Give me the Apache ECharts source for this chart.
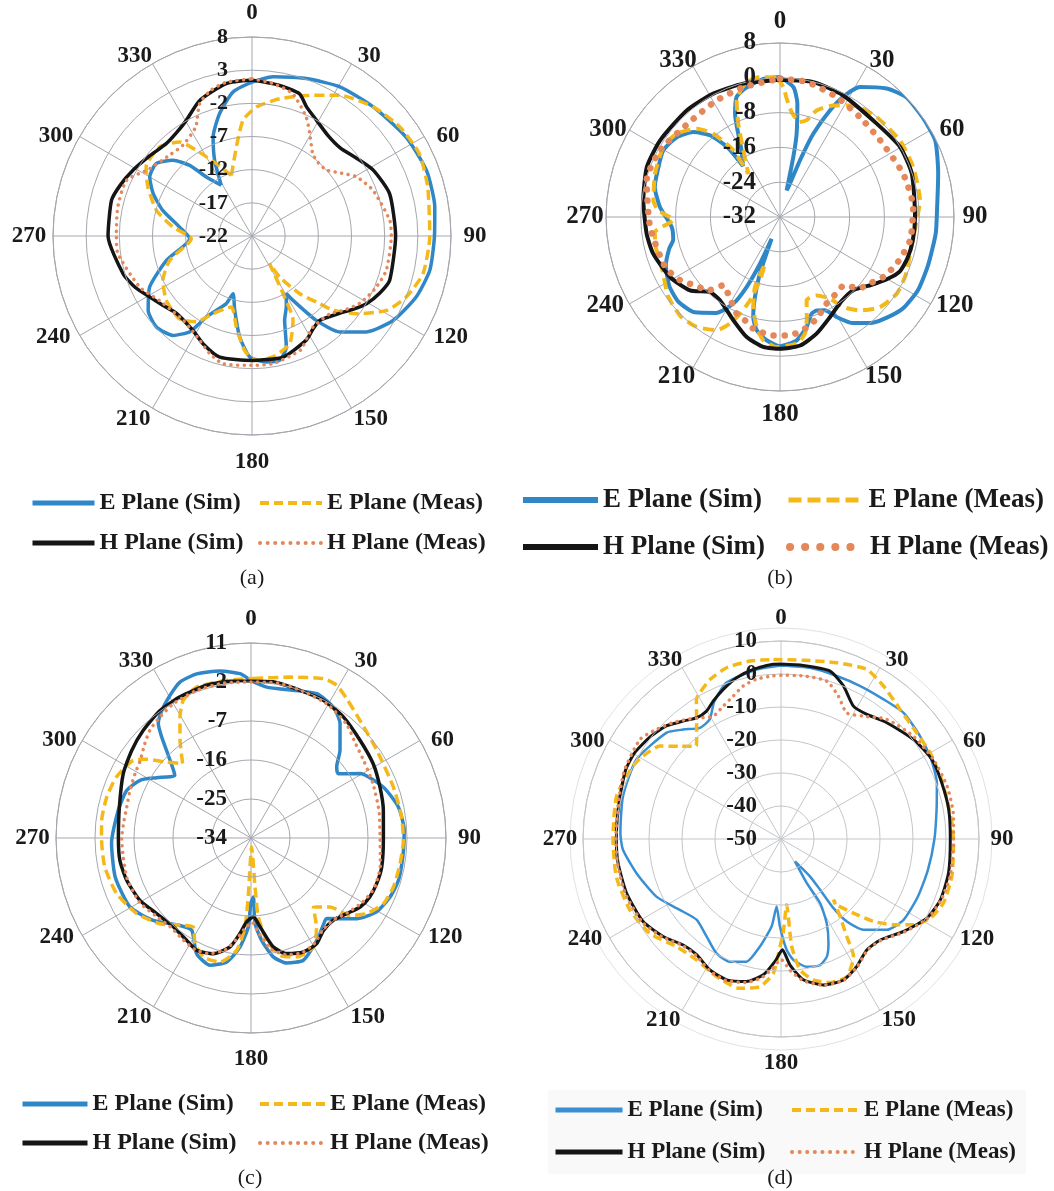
<!DOCTYPE html>
<html>
<head>
<meta charset="utf-8">
<script src="https://cdn.jsdelivr.net/npm/echarts@6/dist/echarts.min.js"></script>
<style>
  html, body { margin: 0; padding: 0; background: #fff; }
  #chart { width: 1054px; height: 1191px; }
</style>
</head>
<body>
<div id="chart"></div>
<script>
// radiation patterns, [angle in degrees, gain in dB], in drawing order
const aESim = [[328.8,-13.05],[333.7,-9.3],[338.5,-6.0],[345.2,-2.9],[352.5,-0.1],[0,1.2],[7.5,2.2],[19,3.1],[30.5,4.1],[43.2,4.7],[57.3,5.6],[69.4,6.1],[81,5.9],[90.3,5.5],[100.9,5.3],[110.4,4.4],[120.9,2.8],[130,0.5],[137.6,-2.4],[142.7,-6.0],[147.5,-10.5],[149.2,-11.9],[154,-10.2],[158.8,-8.4],[162.8,-4.5],[167.5,-2.8],[173.5,-2.9],[181,-3.75],[187,-6.7],[193.1,-10.5],[198.2,-12.85],[200.8,-11.1],[209.4,-8.0],[213,-4.8],[218.5,-2.85],[226.4,-2.1],[234.4,-2.75],[243.5,-4.75],[254.1,-8.6],[267.5,-12.6],[277,-11],[286,-8.0],[293.2,-5.8],[300,-4.2],[307,-3.9],[313.8,-5.5],[318.6,-7.8],[322.3,-10.75],[328.8,-13.05]];
const aEMeas = [[341.2,-12.35],[350,-8.4],[355.6,-4.5],[1.9,-2.55],[11.4,-0.9],[21.1,0.7],[31.9,3.0],[43.2,4.7],[53.6,5.7],[63.8,6.1],[74.4,5.5],[90,4.8],[102.4,4.4],[111.6,3.0],[118.9,1.2],[126.7,-2.4],[132.5,-5.4],[135,-7.6],[140.4,-10.7],[146,-14.5],[147.4,-17.1],[151.7,-12.1],[154,-7.9],[160.7,-4.8],[170.2,-3.5],[178,-3.25],[183.7,-4.7],[189.8,-8.1],[196.2,-10.85],[206.7,-8.9],[213,-6.6],[221.2,-5.4],[233.1,-5.85],[243.5,-7.0],[253.5,-9.05],[267.5,-12.85],[276.5,-10],[285,-7.1],[295.2,-4.65],[303.1,-2.95],[314,-2.65],[322.4,-4.1],[327,-6.6],[333.8,-9.85],[341.2,-12.35]];
const aHSim = [[0,1.5],[10,1.1],[18.5,0.6],[23,-0.9],[29,-2.0],[37,-3.0],[45,-3.2],[53,-2.4],[61.5,-1.2],[73,-0.3],[90,-0.35],[107.8,-0.2],[114,-0.9],[120.6,-1.95],[126,-3.2],[131.5,-4.4],[141.3,-5.7],[147,-5.2],[152.5,-4.3],[165.6,-3.15],[180,-3.25],[194.9,-3.1],[204,-4.1],[212,-5.2],[224.3,-5.7],[232,-5.0],[239.2,-4.05],[246,-2.8],[253.7,-1.75],[270,-0.3],[284.2,-0.15],[291,-0.7],[298.9,-1.5],[308,-2.4],[317.1,-3.0],[324,-2.7],[330.4,-1.95],[338.9,-0.1],[350.4,1.3],[360,1.5]];
const aHMeas = [[0,1.7],[8,1.2],[16,0.3],[24.5,-2.3],[30,-4.5],[36.5,-6.6],[42,-7.1],[48.5,-7.0],[55,-5.5],[60.5,-3.9],[69.3,-2.5],[83.5,-1.1],[90,-1.0],[104.3,-1.1],[113,-1.8],[122,-2.85],[129,-4.2],[135,-5.4],[146,-5.5],[151,-4.7],[157,-3.3],[170.7,-2.5],[180,-2.5],[192.8,-2.25],[200,-3.2],[206.6,-4.4],[213,-5.2],[219.3,-5.6],[227,-5.5],[235,-5.0],[245.6,-3.4],[262.5,-1.6],[270,-1.55],[282,-1.3],[293.9,-1.3],[303.3,-3.55],[313,-4.5],[322.7,-4.8],[332.7,-3.5],[338.4,-0.55],[344,0.8],[350.5,1.5],[360,1.7]];

const bESim = [[0,0.2],[5.9,-2.0],[8.7,-5.6],[11.3,-12.5],[12.5,-17.9],[14,-25.7],[16.7,-24.0],[19.4,-18.2],[21.8,-11.4],[25.1,-4.95],[28.1,-0.3],[31.6,3.1],[39.7,6.4],[46.5,8.0],[55.1,8.0],[63.7,7.8],[74.7,5.7],[86.3,4.2],[96,4.0],[108,3.8],[118,3.9],[126,3.3],[131.4,2.2],[138.8,0.3],[145.5,-2.4],[150.5,-5.6],[154.3,-8.2],[158.6,-8.9],[161.9,-8.6],[166.4,-6.0],[172.3,-3.4],[180,-2.3],[186.2,-3.5],[191.6,-5.4],[195,-8.2],[197.4,-12.75],[199.5,-18],[201,-26.6],[203.2,-20.3],[205.5,-14.15],[208.3,-9.4],[213.7,-5.5],[221.8,-2.6],[230,-1.6],[238,-2.0],[247,-3.5],[254,-5.5],[258,-6.9],[264.7,-7.0],[274.8,-4.3],[283.5,-2.4],[289.6,-2.0],[299.7,-1.1],[307.7,-2.0],[314.4,-4.1],[319.4,-7.25],[323,-12],[324,-17.5],[330,-14.3],[336.5,-6.1],[340.1,-2.65],[344.7,-1.4],[353.1,0.0],[360,0.2]];
const bEMeas = [[358.6,0.0],[1.5,-2.1],[3.2,-4.7],[6.3,-7.7],[11.5,-9.7],[15.4,-8.9],[19,-6.1],[25.5,-3.6],[33.3,-1.3],[44,-0.05],[57.4,0.7],[69.4,0.7],[83.2,0.4],[94.3,-0.8],[104.6,-1.0],[114.4,-0.2],[123.3,0.1],[132,-1.05],[139.4,-3.7],[144.9,-6.7],[148.5,-10],[154.9,-12.1],[162.3,-11.9],[165,-8.2],[167.9,-4.6],[172.5,-2.65],[181.5,-2.1],[187.7,-3.4],[192,-6.2],[196.5,-10.4],[199.7,-14.9],[197.8,-20.7],[197.5,-16.75],[199.8,-11.6],[202.5,-7.9],[205.1,-4.95],[209.2,-2.2],[217.2,-0.3],[225,0.3],[234.8,-0.5],[245.4,-2.3],[256,-2.6],[263,-3.0],[268.5,-7.5],[273,-4],[277.5,-2.65],[289.1,-1.6],[301,-0.7],[308.9,-1.5],[316.7,-4.1],[321.3,-7.5],[325,-13.3],[323.8,-19.7],[331.2,-14.5],[335.9,-8.5],[339.6,-3.4],[345.3,-0.3],[351.9,0.5],[358.6,0.0]];
const bHSim = [[0,-0.45],[13.9,-0.05],[27.5,-0.5],[46,-1.1],[59.7,-0.05],[71.8,-0.1],[90,-0.95],[100,-1.0],[108,-1.2],[114.7,-1.8],[120,-3.5],[126.5,-5.8],[135,-8.2],[144.2,-8.0],[153.4,-6.3],[162.6,-3.9],[171.1,-2.1],[180,-1.7],[187.3,-1.9],[195.5,-3.35],[204.3,-5.95],[215.8,-8.4],[223,-8.4],[230.8,-5.3],[241.4,-3.2],[253.9,-1.65],[262.9,-1.1],[277,-0.35],[290.6,0.7],[302.6,0.7],[318.8,0.55],[331.6,0.25],[344.6,-0.2],[360,-0.45]];
const bHMeas = [[0,-0.2],[11.2,-0.35],[25.3,-1.5],[38.7,-2.6],[52.5,-3.0],[70.6,-2.0],[85.7,-1.3],[100,-1.6],[111.8,-3.1],[120.1,-4.55],[126,-6.2],[132,-7.5],[137,-10.5],[143,-10.2],[151.7,-9.4],[160.2,-7.15],[167.4,-5.7],[175.2,-4.7],[183.2,-4.7],[193.4,-5.6],[198,-6.8],[204.1,-7.65],[211.5,-10],[219.7,-11.6],[224.3,-8.4],[231.2,-6.9],[237.7,-4.8],[246.5,-3.2],[265.6,-2.05],[285.4,-0.2],[299,-0.45],[318.6,-1.9],[331.5,-1.5],[344.3,-1.0],[360,-0.2]];

const cESim = [[0,2.3],[5.9,1.0],[16,1.45],[24.5,2.6],[32.2,1.7],[37.9,-0.55],[45.4,-5.15],[50.3,-8.3],[53.6,-9.0],[59.4,-4.8],[68.9,-1.3],[78.1,0.75],[87.1,1.4],[95.9,1.3],[106,1.4],[113,0.85],[120.5,-0.4],[127.4,-3.3],[136.8,-8.5],[140.4,-7.85],[147.3,-5.9],[156.8,-3.3],[164.1,-4.0],[169.4,-6.1],[174,-10.2],[177.3,-14.2],[177.7,-20.4],[180.3,-18.8],[181.7,-13.5],[185.8,-8.7],[191.1,-4.85],[197.8,-3.15],[205.2,-4.5],[212.7,-8.7],[219.1,-8.0],[229.9,-4.5],[240.3,-1.85],[254,-1.4],[268,-1.8],[281.8,-2.7],[291,-3.3],[297.5,-5.15],[302.6,-8.15],[309.5,-11.2],[315,-7.0],[318.5,-2.9],[321,0.0],[325,1.9],[330.4,3.85],[335.5,5.55],[341.7,5.9],[349.5,5.2],[356.2,4.0],[360,2.3]];
const cEMeas = [[0.8,2.8],[13.6,4.2],[24.4,6.4],[29.3,6.4],[34.5,5.0],[42.8,3.0],[55.1,1.4],[70.3,0.9],[82,1.1],[90.9,1.15],[99.8,0.9],[109,0.75],[116.4,0.1],[123.2,-2.1],[128,-5],[131.1,-9.8],[137.9,-12.5],[141,-10.5],[143.6,-8.5],[150.2,-5.0],[159,-4.6],[166.1,-6.1],[171.3,-10.1],[174.7,-15.7],[175.3,-22.7],[176,-31.9],[182.7,-21.15],[183.9,-13.4],[187.3,-7.85],[194,-4.5],[201.8,-4.4],[207.9,-6.4],[213,-9.5],[217.8,-8.5],[226.7,-5.15],[236.5,-2.4],[247.5,-0.45],[258.8,0.4],[270,0.5],[276.7,0.7],[285.9,0.6],[294.4,0.1],[303.4,-1.45],[307,-3.85],[312,-7.8],[317.4,-10.7],[324,-6.15],[329.6,-1.6],[333.8,1.4],[340.2,3.0],[351.2,2.8],[360.8,2.8]];
const cHSim = [[0,2.2],[8.1,2.4],[18.4,1.9],[27.7,1.9],[37.3,1.15],[48.1,-0.2],[58.7,-1.0],[68.4,-2.0],[78.2,-2.8],[90,-3.45],[102.5,-3.1],[110,-3.15],[116.4,-3.4],[122.3,-4.2],[128.3,-5.85],[135,-7.15],[141.9,-6.9],[148.1,-5.3],[155.3,-5.05],[162.9,-6.1],[168.4,-8.3],[174.2,-13.4],[178.3,-15.8],[183,-14.6],[186.6,-11.8],[190.9,-8.4],[198,-5.9],[205.8,-5.2],[212.2,-6.1],[221.1,-6.8],[231.3,-6.1],[240.7,-4.6],[251.2,-3.7],[260.3,-3.3],[270,-3.4],[283.2,-2.8],[296.7,-1.0],[306.3,0.15],[315,1.15],[324.5,2.15],[333.3,2.45],[343.8,2.7],[352.4,2.5],[360,2.2]];
const cHMeas = [[0,2.0],[10,2.3],[20,1.9],[30,1.5],[40,0.3],[48,-1.5],[56,-2.5],[66,-3.2],[78,-3.8],[90,-4.2],[102,-3.5],[112,-3.3],[120,-4.3],[128,-5.9],[135,-7.2],[142,-7.1],[149,-5.6],[156,-5.0],[163,-5.8],[170,-8.0],[176,-12.5],[179,-14.5],[183,-13.5],[188,-10.5],[193,-7.5],[200,-5.6],[207,-5.2],[214,-5.8],[222,-6.3],[231,-5.6],[240,-4.3],[252,-3.9],[262,-4.2],[270,-4.15],[276.4,-4.4],[284,-4.45],[291.5,-4.0],[299,-3.4],[305,-2.8],[311.7,-1.2],[316.8,0.1],[322.2,0.85],[330,1.8],[340,2.3],[350,2.3],[360,2.0]];

const dESim = [[0,2.6],[9.6,2.6],[18.9,2.2],[27.4,2.2],[36.3,2.5],[44.2,3.3],[53.6,2.4],[62,1.5],[70.2,0.2],[79.2,-2.0],[90,-3.5],[102,-4.5],[112.9,-5.0],[123.4,-5.5],[130.6,-7.7],[137.8,-12.85],[141.4,-18],[142.8,-23.7],[142.4,-30.6],[142.2,-35.6],[147.9,-42],[149.7,-34.5],[148.6,-27.2],[151.5,-21],[155.5,-15.3],[158.7,-11.75],[162.8,-10.0],[168.6,-10.5],[174.2,-13.2],[177.1,-16.4],[180.7,-23.5],[183.7,-29.5],[186.1,-23.4],[191.1,-16.8],[195.7,-11.4],[202.6,-9.7],[209.4,-10.2],[217.4,-12.85],[226.3,-14.6],[235,-12.55],[245.2,-8.4],[256.7,-5.0],[266.1,-2.0],[272,-1.3],[285.1,-0.4],[298.8,0.0],[312.8,-2.65],[318.2,-5.5],[323.9,-8.3],[329.2,-7.8],[334,-3.8],[340.8,0.2],[351.8,1.9],[360,2.6]];
const dEMeas = [[357.6,4.45],[7.2,4.6],[17.6,6.05],[26.8,7.6],[33.8,5.8],[42.6,3.35],[52,2.2],[60,2.2],[68.5,1.9],[76.6,1.7],[84.6,2.0],[91.3,2.3],[102.3,3.0],[111.5,2.9],[117.9,1.2],[122.9,-2.1],[127.3,-7.1],[131.7,-12.45],[135.7,-18.6],[139.7,-23.9],[139.2,-25.7],[142.7,-20.45],[146,-14.4],[148.3,-8.2],[154.4,-3.75],[161.1,-4.05],[167.1,-6.2],[171.7,-9.9],[174.3,-17.2],[175.1,-30],[178.5,-22],[180.5,-17.4],[183.3,-9.2],[188.1,-4.85],[195.4,-3.05],[205.1,-3.95],[215,-5.3],[224.2,-4.55],[234.3,-1.0],[244.9,0.6],[257.2,1.2],[270,0.9],[284.6,1.5],[296.2,0.0],[301,-1.2],[307.5,-3.75],[312.5,-8.4],[317.7,-11.95],[322.4,-8.1],[326.9,-3.1],[328.8,-0.5],[331,0.7],[336,2.9],[342.4,4.45],[350.1,4.75],[357.6,4.45]];
const dHSim = [[0,3.0],[7.3,3.0],[16.3,3.0],[22.2,0.1],[28.6,-4.15],[34.6,-4.15],[42.3,-2.35],[53.1,0.2],[62.2,1.7],[70.8,1.6],[80.1,1.6],[90,1.3],[101.5,1.8],[110.9,1.7],[118.5,0.3],[127,-3.45],[135.5,-7.1],[142.3,-7.5],[149.3,-5.05],[156.1,-3.25],[163.8,-3.95],[171,-6.8],[175.9,-11.7],[179.3,-16.4],[182.8,-12.85],[187.4,-8.5],[193.6,-5.55],[201.1,-4.25],[208.5,-4.85],[216.1,-6.6],[222.7,-6.3],[230.4,-3.65],[239.1,-1.3],[250.7,-0.4],[261.6,-0.1],[270,-0.1],[282.6,0.3],[293.7,1.5],[300.2,1.5],[308.1,0.3],[314.6,-1.2],[320.3,-3.55],[325.1,-5.25],[329.8,-5.15],[333.8,-3.45],[338.9,-1.4],[344.6,0.7],[350.7,2.1],[357.5,3.0],[360,3.0]];
const dHMeas = [[0,-0.4],[7.8,-0.1],[16.2,-0.2],[21.9,-3.35],[27.5,-6.9],[33.9,-5.15],[41.5,-1.6],[52.2,0.8],[62.5,2.1],[72.4,2.8],[82.5,2.75],[91.3,2.3],[102.5,2.5],[110.9,1.9],[118.5,0.5],[127,-3.2],[135.5,-6.9],[142.3,-7.3],[149.3,-4.9],[156.1,-3.2],[163.8,-3.9],[171,-6.5],[175.9,-10],[180,-13.5],[184,-10.5],[188,-7.5],[194,-5.2],[201,-4.0],[208.5,-4.6],[216,-6.3],[223,-6.0],[230.4,-3.4],[239,-1.0],[250.7,0.0],[261.6,0.1],[270,0.0],[282.6,0.5],[293.7,1.8],[305.2,2.3],[311.3,0.3],[317.1,-1.9],[321.7,-3.85],[326.2,-5.8],[331.1,-7.5],[336.5,-6.1],[341.5,-4.35],[346.1,-2.25],[351.3,-1.0],[357.3,-0.5],[360,-0.4]];

// radius axes: min, max, step
const aRange = [-22, 8, 5];
const bRange = [-32, 8, 8];
const cRange = [-34, 11, 9];
const dRange = [-50, 10, 10];

// angle tick labels
const angleTicks = [0, 30, 60, 90, 120, 150, 180, 210, 240, 270, 300, 330];

const seriesNames = ["E Plane (Sim)", "E Plane (Meas)", "H Plane (Sim)", "H Plane (Meas)"];
const FONT = "Liberation Serif";

// labOff: gap outside the rim for [0/90/180/270, near-vertical, near-horizontal] labels
const panels = [
    { key: "a", range: aRange, data: [aESim, aEMeas, aHSim, aHMeas], center: [252, 236], radius: 199,
      grid: "#a5a7ae", angFont: 23, radFont: 22, labOff: [24, 16, 21], widths: [3.5, 3.5, 3.5, 3.5], dash: [10, 5], dot: [0.1, 6.5],
      legend: { x1: 30, x2: 258, y1: 503, y2: 543, w: 62, font: 24 }, caption: [252, 578] },
    { key: "b", range: bRange, data: [bESim, bEMeas, bHSim, bHMeas], center: [780, 217], radius: 174,
      grid: "#a5a7ae", angFont: 25, radFont: 25, labOff: [21, 13, 19], widths: [4, 4, 4, 6.5], dash: [11, 6], dot: [0.1, 11],
      legend: { x1: 520, x2: 786, y1: 500, y2: 547, w: 75, font: 27 }, caption: [780, 578] },
    { key: "c", range: cRange, data: [cESim, cEMeas, cHSim, cHMeas], center: [251, 838], radius: 195,
      grid: "#a5a7ae", angFont: 23, radFont: 23, labOff: [23.5, 16, 20], widths: [3.5, 3.5, 3.5, 3.5], dash: [10, 5], dot: [0.1, 6.5],
      legend: { x1: 20, x2: 258, y1: 1104, y2: 1143, w: 65, font: 24 }, caption: [250, 1178] },
    { key: "d", range: dRange, data: [dESim, dEMeas, dHSim, dHMeas], center: [781, 839], radius: 198,
      grid: "#c4c6cb", angFont: 23, radFont: 23, labOff: [23, 15, 19], widths: [2.5, 3.5, 3, 3.5], dash: [9, 5], dot: [0.1, 6.5],
      legend: { x1: 553, x2: 790, y1: 1110, y2: 1152, w: 67, font: 23 }, caption: [780, 1178] },
];

const colors = ["#2f87c8", "#f4b919", "#151515", "#e4885a"];

const polar = [], angleAxis = [], radiusAxis = [], series = [], legend = [], graphic = [];

panels.forEach((p, i) => {
    const span = p.range[1] - p.range[0];
    polar.push({ center: p.center, radius: p.radius });
    angleAxis.push({
        polarIndex: i, type: "value", min: 0, max: 360, interval: 30,
        startAngle: 90, clockwise: true,
        axisLine: { lineStyle: { color: p.grid, width: 1 } },
        axisTick: { show: false },
        axisLabel: { show: false },
        splitLine: { lineStyle: { color: p.grid, width: 1 } },
    });
    radiusAxis.push({
        polarIndex: i, type: "value", min: p.range[0], max: p.range[1], interval: p.range[2],
        axisLine: { show: false },
        axisTick: { show: false },
        splitLine: { lineStyle: { color: p.grid, width: 1 } },
        axisLabel: {
            margin: 24, color: "#1a1a1a", fontFamily: FONT, fontWeight: "bold", fontSize: p.radFont,
            showMinLabel: true, showMaxLabel: true,
        },
        z: 5,
    });

    // angle labels centred just outside the rim
    series.push({
        type: "scatter", coordinateSystem: "polar", polarIndex: i, silent: true, clip: false,
        symbol: "circle", symbolSize: 0.5,
        itemStyle: { color: "#ffffff" },
        data: angleTicks.map((a) => {
            const rad = (a * Math.PI) / 180;
            const c = Math.abs(Math.cos(rad));
            let off = a % 90 === 0 ? p.labOff[0] : c > 0.7 ? p.labOff[1] : p.labOff[2];
            if (Math.cos(rad) < -0.1) off += 3;
            return { value: [p.range[1] + (off / p.radius) * span, a + 3.5 * Math.sin(2 * rad)], tick: a };
        }),
        label: {
            show: true, position: "inside", formatter: (d) => String(d.data.tick),
            fontFamily: FONT, fontWeight: "bold", fontSize: p.angFont, color: "#1a1a1a",
            opacity: 1, textBorderWidth: 0,
        },
        z: 10,
    });

    p.data.forEach((arr, k) => {
        const name = seriesNames[k] + "#" + p.key;
        let ls = { color: colors[k], width: p.widths[k], type: "solid" };
        if (k === 0 && p.key === "d") ls.color = "#3a8fd2";
        if (k === 1) ls.type = p.dash;
        if (k === 3) { ls.type = p.dot; ls.cap = "round"; }
        series.push({
            name: name, type: "line", coordinateSystem: "polar", polarIndex: i,
            data: arr.map((pt) => [pt[1], pt[0]]),
            symbol: "none", showSymbol: false, smooth: 0.2,
            lineStyle: ls, itemStyle: { color: ls.color },
            z: 2 + k,
        });

        const lg = p.legend;
        const lx = k % 2 === 0 ? lg.x1 : lg.x2;
        const ly = k < 2 ? lg.y1 : lg.y2;
        let legLine = { width: p.key === "b" ? 6 : 5, type: "solid", color: ls.color };
        if (k === 1) legLine = { width: p.key === "b" ? 5 : 4, type: p.key === "b" ? [13, 6] : [9, 5], color: ls.color };
        if (k === 3) legLine = { width: p.key === "b" ? 8 : 4, type: p.key === "b" ? [0.1, 15] : [0.1, 7.5], cap: "round", color: ls.color };
        legend.push({
            data: [name], left: lx, top: ly - lg.font / 2, padding: 0,
            itemWidth: lg.w, itemHeight: 14, selectedMode: false,
            formatter: (n) => n.split("#")[0],
            lineStyle: legLine,
            itemStyle: { opacity: 0, borderWidth: 0 },
            textStyle: { fontFamily: FONT, fontWeight: "bold", fontSize: lg.font, color: "#1a1a1a", lineHeight: lg.font },
        });
    });

    graphic.push({
        type: "text", x: p.caption[0], y: p.caption[1],
        style: { text: "(" + p.key + ")", fontFamily: FONT, fontSize: 22, fill: "#1a1a1a", align: "center", verticalAlign: "middle" },
    });
});

// faint outer band around (d)
polar.push({ center: [781, 839], radius: 211 });
angleAxis.push({
    polarIndex: 4, type: "value", min: 0, max: 360, startAngle: 90,
    axisLine: { lineStyle: { color: "#e2e2e2", width: 1 } },
    axisTick: { show: false }, axisLabel: { show: false }, splitLine: { show: false },
});
radiusAxis.push({ polarIndex: 4, type: "value", min: 0, max: 1, axisLine: { show: false }, axisTick: { show: false }, axisLabel: { show: false }, splitLine: { show: false } });

graphic.unshift({
    type: "rect", shape: { x: 548, y: 1090, width: 478, height: 84 },
    style: { fill: "#f9f9f9" }, z: -10,
});

const myChart = echarts.init(document.getElementById("chart"));
const option = {
    backgroundColor: "#fff",
    animation: false,
    polar: polar,
    angleAxis: angleAxis,
    radiusAxis: radiusAxis,
    legend: legend,
    graphic: graphic,
    series: series,
};
myChart.setOption(option, true);
</script>
</body>
</html>
